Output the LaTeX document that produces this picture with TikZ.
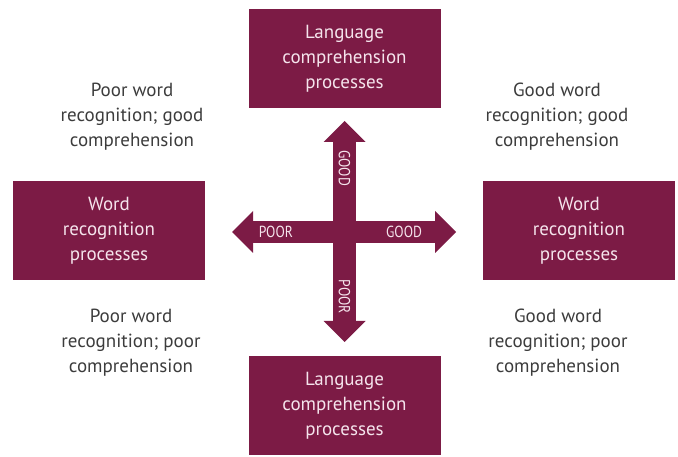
\documentclass[tikz,border=0pt]{standalone}
\usepackage{fontspec}
\setmainfont{PT Sans}
\newfontfamily\axisfont[FakeStretch=0.85]{PT Sans}
\usetikzlibrary{arrows.meta}
\definecolor{wine}{RGB}{124,27,69}
\definecolor{blush}{RGB}{245,228,236}
\definecolor{ink}{RGB}{60,60,60}

\begin{document}
\begin{tikzpicture}[x=1pt, y=-1pt,
  proc/.style={fill=wine, text=blush, minimum width=192pt, minimum height=99pt,
    align=center, font=\fontsize{19}{25}\selectfont},
  quad/.style={text=ink, align=center, font=\fontsize{19}{25}\selectfont},
  axis/.style={wine, line width=22.5pt,
    {Triangle[length=21pt,width=42pt,line width=0pt]}-{Triangle[length=21pt,width=42pt,line width=0pt]}},
  tag/.style={text=blush, inner sep=0pt, font=\axisfont\fontsize{16}{16}\selectfont}]
\useasboundingbox (0,0) rectangle (678,457);

% the four process boxes
\node[proc] (Ltop) at (344.5,58.5) {Language\\comprehension\\processes};
\node[proc] (Lbot) at (344.5,405.5) {Language\\comprehension\\processes};
\node[proc] (Wleft) at (109,230.5) {Word\\recognition\\processes};
\node[proc] (Wright) at (579,230.5) {Word\\recognition\\processes};

% quadrant captions
\node[quad] (Qtl) at (132,117) {Poor word\\recognition; good\\comprehension};
\node[quad] (Qtr) at (557,117) {Good word\\recognition; good\\comprehension};
\node[quad] (Qbl) at (131,343) {Poor word\\recognition; poor\\comprehension};
\node[quad] (Qbr) at (558,343) {Good word\\recognition; poor\\comprehension};

% ends of the two axes
\coordinate (up) at (344.5,121);
\coordinate (down) at (344.5,342);
\coordinate (left) at (232,232);
\coordinate (right) at (456,232);

\draw[axis] (up) -- (down)
  node[tag, pos=0.213, sloped] (goodV) {GOOD}
  node[tag, pos=0.796, sloped] (poorV) {POOR};
\draw[axis] (left) -- (right)
  node[tag, pos=0.196] (poorH) {POOR}
  node[tag, pos=0.768] (goodH) {GOOD};
\end{tikzpicture}
\end{document}
